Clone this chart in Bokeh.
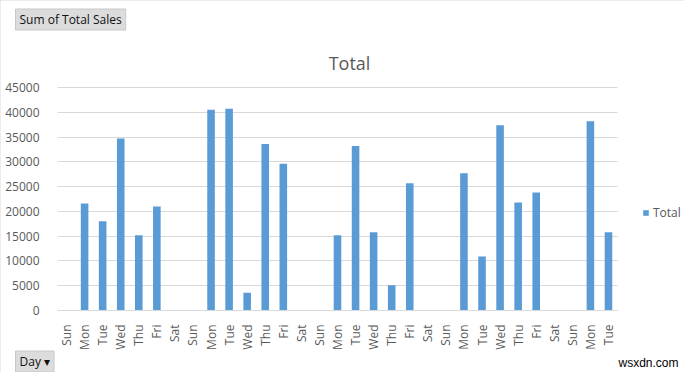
from bokeh.plotting import figure
from bokeh.models import Label, FixedTicker, Legend, LegendItem, ColumnDataSource, Range1d
from bokeh.embed import file_html
from bokeh.resources import INLINE
from math import pi

days = ["Sun", "Mon", "Tue", "Wed", "Thu", "Fri", "Sat",
        "Sun", "Mon", "Tue", "Wed", "Thu", "Fri", "Sat",
        "Sun", "Mon", "Tue", "Wed", "Thu", "Fri", "Sat",
        "Sun", "Mon", "Tue", "Wed", "Thu", "Fri", "Sat",
        "Sun", "Mon", "Tue"]
totals = [0, 21600, 18000, 34700, 15200, 21000, 0,
          0, 40500, 40700, 3600, 33600, 29600, 0,
          0, 15200, 33200, 15800, 5100, 25700, 0,
          0, 27700, 10900, 37400, 21800, 23800, 0,
          0, 38200, 15800]
y_ticks = [0, 5000, 10000, 15000, 20000, 25000, 30000, 35000, 40000, 45000]
y_max = 45000

n = len(days)
positions = list(range(1, n + 1))
src = ColumnDataSource(dict(x=positions, y=totals))

FONT = "Open Sans"
GREY = "#595959"

# ---- layout (pixels) ----
W, H = 684, 372
PL, PR = 57, 617          # plot area left / right
PT, PB = 87, 310          # plot area top (45000) / bottom (0)
ux = (PR - PL) / n                 # px per category
uy = (PB - PT) / y_max             # px per unit value
x0 = 0.5 - PL / ux
x1 = 0.5 + (W - PL) / ux
y0 = -(H - PB) / uy
y1 = y_max + PT / uy

def dx(px):
    return x0 + px / ux

def dy(py):
    return y0 + (H - py) / uy

p = figure(width=W, height=H, output_backend="svg", toolbar_location=None,
           x_range=Range1d(x0, x1), y_range=Range1d(y0, y1), min_border=0)
p.outline_line_color = None
p.styles = {"outline": "1px solid #d9d9d9", "outline-offset": "-1px"}

r = p.vbar(x="x", top="y", width=0.42, source=src, fill_color="#5b9bd5", line_color=None)

p.xaxis.fixed_location = 0
p.xaxis.bounds = (0.5, n + 0.5)
p.xaxis.ticker = FixedTicker(ticks=positions)
p.xaxis.major_label_overrides = {i: d for i, d in zip(positions, days)}
p.xaxis.major_label_orientation = pi / 2
p.xaxis.axis_line_color = "#d9d9d9"
p.xaxis.major_tick_line_color = None
p.xaxis.minor_tick_line_color = None
p.xaxis.major_label_text_font = FONT
p.xaxis.major_label_text_font_size = "12px"
p.xaxis.major_label_text_color = GREY
p.xaxis.major_label_standoff = 8

p.yaxis.fixed_location = 0.5
p.yaxis.ticker = FixedTicker(ticks=y_ticks)
p.yaxis.axis_line_color = None
p.yaxis.major_tick_line_color = None
p.yaxis.minor_tick_line_color = None
p.yaxis.major_label_text_font = FONT
p.yaxis.major_label_text_font_size = "12px"
p.yaxis.major_label_text_color = GREY
p.yaxis.major_label_standoff = 12
p.yaxis.formatter.use_scientific = False

p.xgrid.grid_line_color = None
p.ygrid.grid_line_color = "#d9d9d9"
p.ygrid.ticker = FixedTicker(ticks=y_ticks)
if "cross_bounds" in p.ygrid[0].properties():
    p.ygrid.cross_bounds = (0.5, n + 0.5)

legend = Legend(items=[LegendItem(label="Total", renderers=[r])],
                location=(642, 151), orientation="vertical",
                border_line_color=None, background_fill_alpha=0,
                glyph_width=7, glyph_height=7, label_standoff=4, label_height=14,
                padding=0, margin=0,
                label_text_font=FONT, label_text_font_size="12px", label_text_color=GREY)
p.add_layout(legend, "center")

p.add_layout(Label(x=dx(349), y=dy(62), text="Total", text_align="center",
                   text_baseline="alphabetic",
                   text_font=FONT, text_font_size="18px", text_color=GREY))

p.add_layout(Label(x=dx(15), y=dy(19), text="Sum of Total Sales", text_align="left",
                   text_baseline="middle",
                   text_font=FONT, text_font_size="12px", text_color="#111111",
                   background_fill_color="#dcdcdc", border_line_color="#c8c8c8",
                   padding=dict(x=4, y=2)))
p.add_layout(Label(x=dx(15), y=dy(361), text="Day \u25BE", text_align="left",
                   text_baseline="middle",
                   text_font=FONT, text_font_size="12px", text_color="#111111",
                   background_fill_color="#dcdcdc", border_line_color="#c8c8c8",
                   padding=dict(x=4, y=2)))
p.add_layout(Label(x=dx(678), y=dy(362), text="wsxdn.com", text_align="right",
                   text_baseline="alphabetic",
                   text_font="Liberation Sans", text_font_size="12px", text_color="#000000"))

open("out.html", "w").write(file_html(p, INLINE))
